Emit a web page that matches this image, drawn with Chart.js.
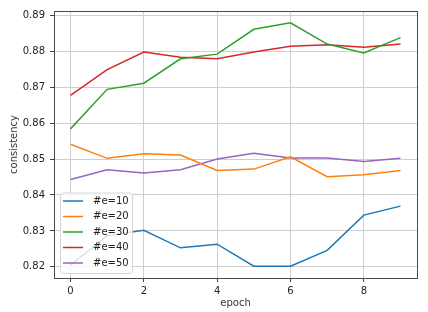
<!DOCTYPE html>
<html>
<head>
<meta charset="utf-8">
<script src="https://cdn.jsdelivr.net/npm/chart.js@4/dist/chart.umd.min.js"></script>
<style>
html, body { margin: 0; padding: 0; background: #fff; }
</style>
</head>
<body>
<canvas id="mycanvas" width="428" height="312"></canvas>
<script>
var epochs = [0, 1, 2, 3, 4, 5, 6, 7, 8, 9];
var seriesLabels = ["#e=10", "#e=20", "#e=30", "#e=40", "#e=50"];
var e10 = [0.8205, 0.8287, 0.8302, 0.8253, 0.8263, 0.8202, 0.8202, 0.8246, 0.8344, 0.8369];
var e20 = [0.8541, 0.8502, 0.8515, 0.8511, 0.8468, 0.8472, 0.8506, 0.8451, 0.8456, 0.8468];
var e30 = [0.8584, 0.8694, 0.8711, 0.8779, 0.8792, 0.8861, 0.8879, 0.8820, 0.8795, 0.8838];
var e40 = [0.8677, 0.8749, 0.8798, 0.8783, 0.8779, 0.8798, 0.8814, 0.8818, 0.8811, 0.8820];
var e50 = [0.8443, 0.8470, 0.8461, 0.8470, 0.8500, 0.8516, 0.8503, 0.8503, 0.8493, 0.8502];
var colors = ["#1f77b4", "#ff7f0e", "#2ca02c", "#d62728", "#9467bd"];
var xTicks = [0, 2, 4, 6, 8];
var yTicks = [0.82, 0.83, 0.84, 0.85, 0.86, 0.87, 0.88, 0.89];

var FONT = "'DejaVu Sans', sans-serif";

function toPoints(vals) {
	var pts = [];
	for (var i in epochs) {
		pts.push({ x: epochs[i], y: vals[i] });
	}
	return pts;
}

var allSeries = [e10, e20, e30, e40, e50];
var datasets = [];
for (var i = 0; i < allSeries.length; i++) {
	datasets.push({
		label: seriesLabels[i],
		data: toPoints(allSeries[i]),
		borderColor: colors[i],
		backgroundColor: colors[i],
		borderWidth: 1.5,
		pointRadius: 0,
		fill: false,
		tension: 0
	});
}

// matplotlib-like frame around the plot
var framePlugin = {
	id: "frame",
	afterDraw: function(chart) {
		var a = chart.chartArea;
		var ctx = chart.ctx;
		ctx.save();
		ctx.strokeStyle = "#4a4a4a";
		ctx.lineWidth = 1;
		ctx.strokeRect(Math.round(a.left) + 0.5, Math.round(a.top) + 0.5,
			Math.round(a.right - a.left), Math.round(a.bottom - a.top));
		ctx.restore();
	}
};

// legend box in the lower left of the plot
var legendPlugin = {
	id: "innerLegend",
	afterDatasetsDraw: function(chart) {
		var a = chart.chartArea;
		var ctx = chart.ctx;
		var ds = chart.data.datasets;
		var x0 = a.left + 6, w = 72, rowH = 15.5;
		var h = ds.length * rowH + 3;
		var y0 = a.bottom - 5 - h;
		ctx.save();
		ctx.beginPath();
		ctx.roundRect(x0 + 0.5, y0 + 0.5, w, h, 3);
		ctx.fillStyle = "rgba(255,255,255,0.8)";
		ctx.fill();
		ctx.strokeStyle = "#d6d6d6";
		ctx.lineWidth = 1;
		ctx.stroke();
		ctx.font = "10px " + FONT;
		ctx.textBaseline = "middle";
		ds.forEach(function(d, k) {
			var cy = y0 + 8.5 + k * rowH;
			ctx.beginPath();
			ctx.moveTo(x0 + 3, cy);
			ctx.lineTo(x0 + 23, cy);
			ctx.strokeStyle = d.borderColor;
			ctx.lineWidth = 1.5;
			ctx.stroke();
			ctx.fillStyle = "#222";
			ctx.fillText(d.label, x0 + 33, cy);
		});
		ctx.restore();
	}
};

var ctx = document.getElementById("mycanvas");
var LineGraph = new Chart(ctx, {
	type: "line",
	data: { datasets: datasets },
	plugins: [legendPlugin, framePlugin],
	options: {
		responsive: false,
		animation: false,
		devicePixelRatio: 1,
		layout: { padding: { top: 8, right: 11, left: 0, bottom: 0 } },
		plugins: { legend: { display: false }, tooltip: { enabled: false } },
		scales: {
			x: {
				type: "linear",
				min: -0.45,
				max: 9.45,
				afterBuildTicks: function(scale) {
					scale.ticks = xTicks.map(function(v) { return { value: v }; });
				},
				afterFit: function(scale) { scale.height = 34; },
				grid: { color: "#cfcfcf", lineWidth: 1, tickLength: 4, tickColor: "#444" },
				border: { display: false },
				ticks: {
					font: { family: FONT, size: 10 },
					color: "#222",
					padding: 3,
					maxRotation: 0,
					callback: function(v) { return String(v); }
				},
				title: {
					display: true,
					text: "epoch",
					font: { family: FONT, size: 10 },
					color: "#333",
					padding: { top: 0, bottom: 3 }
				}
			},
			y: {
				min: 0.8169,
				max: 0.8912,
				afterBuildTicks: function(scale) {
					scale.ticks = yTicks.map(function(v) { return { value: v }; });
				},
				afterFit: function(scale) { scale.width = 54; },
				grid: { color: "#cfcfcf", lineWidth: 1, tickLength: 4, tickColor: "#444" },
				border: { display: false },
				ticks: {
					font: { family: FONT, size: 10 },
					color: "#222",
					padding: 5,
					callback: function(v) { return v.toFixed(2); }
				},
				title: {
					display: true,
					text: "consistency",
					font: { family: FONT, size: 10 },
					color: "#333",
					padding: { top: 8, bottom: 0 }
				}
			}
		}
	}
});
</script>
</body>
</html>
